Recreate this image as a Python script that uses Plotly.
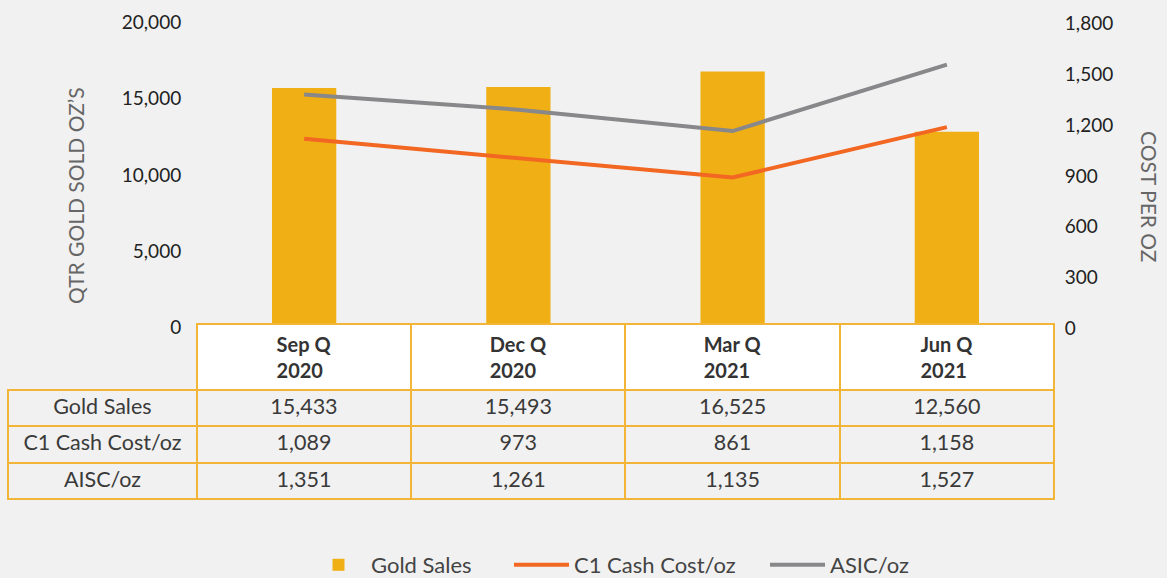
import plotly.graph_objects as go

W, H = 1167, 578

quarters = ["Sep Q 2020", "Dec Q 2020", "Mar Q 2021", "Jun Q 2021"]
header_labels = ["Sep Q<br>2020", "Dec Q<br>2020", "Mar Q<br>2021", "Jun Q<br>2021"]
gold_sales = [15433, 15493, 16525, 12560]
c1_cash_cost = [1089, 973, 861, 1158]
aisc = [1351, 1261, 1135, 1527]
row_labels = ["Gold Sales", "C1 Cash Cost/oz", "AISC/oz"]

BG = "#F1F1F1"
GOLD = "#F0AF14"
ORANGE = "#F26722"
GREY = "#88888A"
BORDER = "#F2B53A"
FONT = "Lato"

def px_x(p):
    return p / W

def px_y(p):
    return 1 - p / H

fig = go.Figure()

fig.add_trace(go.Bar(
    x=quarters, y=gold_sales, name="Gold Sales",
    marker=dict(color=GOLD, line=dict(width=0)), width=0.3,
    xaxis="x", yaxis="y", legend="legend",
))
fig.add_trace(go.Scatter(
    x=quarters, y=c1_cash_cost, name="C1 Cash Cost/oz", mode="lines",
    line=dict(color=ORANGE, width=4), xaxis="x", yaxis="y2", legend="legend2",
))
fig.add_trace(go.Scatter(
    x=quarters, y=aisc, name="ASIC/oz", mode="lines",
    line=dict(color=GREY, width=4), xaxis="x", yaxis="y2", legend="legend3",
))

def fmt(v):
    return f"{v:,}"

cell_values = [row_labels] + [
    [fmt(gold_sales[i]), fmt(c1_cash_cost[i]), fmt(aisc[i])] for i in range(len(quarters))
]

fig.add_trace(go.Table(
    domain=dict(x=[px_x(8), px_x(1054)], y=[px_y(530), px_y(323.5)]),
    columnwidth=[189, 214.5, 214.5, 214.5, 214.5],
    header=dict(
        values=[""] + [f"<b>{h}</b>" for h in header_labels],
        fill=dict(color=["rgba(0,0,0,0)"] + ["white"] * 4),
        line=dict(color=["rgba(0,0,0,0)"] + [BORDER] * 4, width=2),
        align="center", height=61,
        font=dict(family=FONT, size=20, color="#333333"),
    ),
    cells=dict(
        values=cell_values,
        fill=dict(color=BG),
        line=dict(color=BORDER, width=2),
        align="center", height=36.5,
        font=dict(family=FONT, size=21.5, color="#3a3a3a"),
    ),
))

legend_common = dict(
    orientation="h", yanchor="middle", y=px_y(565), xanchor="left",
    font=dict(family=FONT, size=22, color="#444444"),
    bgcolor="rgba(0,0,0,0)", borderwidth=0, itemwidth=55,
)

PLOT_TOP, PLOT_BOTTOM = 18.4, 323.3

fig.update_layout(
    width=W, height=H,
    margin=dict(l=0, r=0, t=0, b=0, autoexpand=False),
    paper_bgcolor=BG, plot_bgcolor=BG,
    font=dict(family=FONT, color="#222222"),
    showlegend=True,
    legend=dict(x=px_x(306), **legend_common),
    legend2=dict(x=px_x(509), **legend_common),
    legend3=dict(x=px_x(765), **legend_common),
    xaxis=dict(
        domain=[px_x(197), px_x(1054)], type="category", range=[-0.5, 3.5],
        showticklabels=False, showgrid=False, zeroline=False,
        showline=True, linecolor="#BDBDBD", linewidth=1.5, ticks="",
        anchor="y",
    ),
    yaxis=dict(
        domain=[px_y(PLOT_BOTTOM), px_y(PLOT_TOP)], range=[0, 20000], dtick=5000,
        tickformat=",", showgrid=False, zeroline=False, showline=False,
        ticks="outside", ticklen=11, tickcolor="rgba(0,0,0,0)",
        ticklabelshift=4,
        tickfont=dict(family=FONT, size=19, color="#222222"),
        anchor="x",
    ),
    yaxis2=dict(
        domain=[px_y(PLOT_BOTTOM), px_y(PLOT_TOP)], range=[0, 1800], dtick=300,
        tickformat=",", showgrid=False, zeroline=False, showline=False,
        overlaying="y", side="right", anchor="x",
        ticks="outside", ticklen=6, tickcolor="rgba(0,0,0,0)",
        ticklabelshift=5,
        tickfont=dict(family=FONT, size=19, color="#222222"),
    ),
    annotations=[
        dict(text="QTR GOLD SOLD OZ’S", x=px_x(75), y=px_y(196), xref="paper", yref="paper",
             textangle=-90, showarrow=False, xanchor="center", yanchor="middle",
             font=dict(family=FONT, size=21, color="#666666")),
        dict(text="COST PER OZ", x=px_x(1150), y=px_y(196), xref="paper", yref="paper",
             textangle=90, showarrow=False, xanchor="center", yanchor="middle",
             font=dict(family=FONT, size=21, color="#666666")),
    ],
)

fig.write_html(
    "out.html",
    config={"displayModeBar": False},
    post_script="document.body.style.margin='0';document.body.style.background='#F1F1F1';",
)
